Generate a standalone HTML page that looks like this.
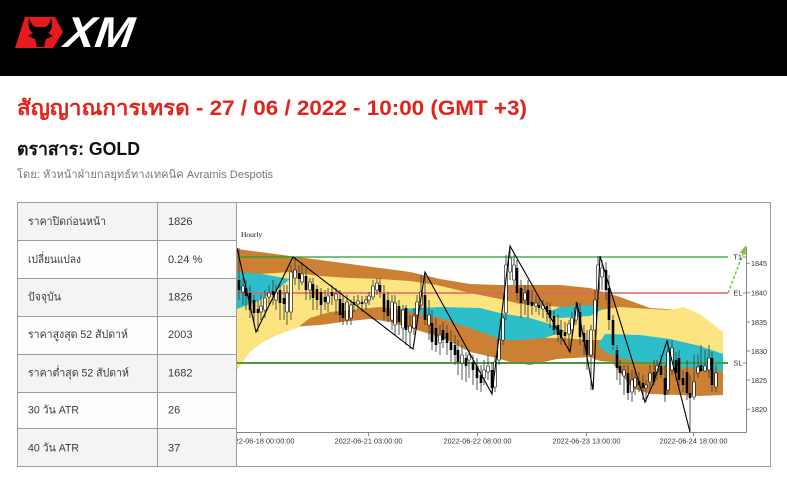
<!DOCTYPE html>
<html>
<head>
<meta charset="utf-8">
<style>
html,body{margin:0;padding:0;background:#fff;}
body{width:787px;height:480px;overflow:hidden;}
svg{display:block;}
text{font-family:"Liberation Sans","DejaVu Sans",sans-serif;}
</style>
</head>
<body>
<svg width="787" height="480" viewBox="0 0 787 480" xmlns="http://www.w3.org/2000/svg">
<defs>
<clipPath id="cc"><rect x="237" y="203" width="533" height="263"/></clipPath>
</defs>
<rect x="0" y="0" width="787" height="480" fill="#fff"/>
<!-- header -->
<rect x="0" y="0" width="787" height="76" fill="#000"/>
<path d="M25 17 L55 17 L63 32 L53 48 L15 48 Z" fill="#e8191f"/>
<path d="M29 18 Q32 27 37 27 L44 27 Q49 27 51 18 Q54 29 48 33 L53 36 L46 39 L44 47 L37 47 L35 39 L28 36 L33 33 Q27 29 29 18 Z" fill="#000"/>
<g transform="translate(0,47) skewX(-8) translate(0,-47)">
<text x="63" y="47" font-size="43" font-weight="bold" font-style="italic" fill="#fff" textLength="69" lengthAdjust="spacingAndGlyphs">XM</text>
</g>
<!-- titles -->
<text x="17" y="115" font-size="21" font-weight="bold" fill="#e2231a" textLength="510" lengthAdjust="spacingAndGlyphs">สัญญาณการเทรด - 27 / 06 / 2022 - 10:00 (GMT +3)</text>
<text x="17" y="155" font-size="18" font-weight="bold" fill="#111" textLength="123" lengthAdjust="spacingAndGlyphs">ตราสาร: GOLD</text>
<text x="17" y="178" font-size="11" fill="#777" textLength="256" lengthAdjust="spacingAndGlyphs">โดย: หัวหน้าฝ่ายกลยุทธ์ทางเทคนิค Avramis Despotis</text>
<!-- table -->
<rect x="17.5" y="202.5" width="219" height="38" fill="#f4f4f4"/>
<rect x="17.5" y="240.5" width="219" height="38" fill="#fdfdfd"/>
<rect x="17.5" y="278.5" width="219" height="38" fill="#f4f4f4"/>
<rect x="17.5" y="316.5" width="219" height="38" fill="#fdfdfd"/>
<rect x="17.5" y="354.5" width="219" height="38" fill="#f4f4f4"/>
<rect x="17.5" y="392.5" width="219" height="36" fill="#fdfdfd"/>
<rect x="17.5" y="428.5" width="219" height="38" fill="#f4f4f4"/>
<g stroke="#9c9c9c" stroke-width="1" fill="none">
<rect x="17.5" y="202.5" width="753" height="264"/>
<path d="M157.5 202.5V466.5M236.5 202.5V466.5M17.5 240.5H236.5M17.5 278.5H236.5M17.5 316.5H236.5M17.5 354.5H236.5M17.5 392.5H236.5M17.5 428.5H236.5"/>
</g>
<g font-size="11" fill="#3a3a3a">
<text x="28" y="225" textLength="78" lengthAdjust="spacingAndGlyphs">ราคาปิดก่อนหน้า</text>
<text x="28" y="263" textLength="53" lengthAdjust="spacingAndGlyphs">เปลี่ยนแปลง</text>
<text x="28" y="300.5" textLength="33" lengthAdjust="spacingAndGlyphs">ปัจจุบัน</text>
<text x="28" y="338" textLength="100" lengthAdjust="spacingAndGlyphs">ราคาสูงสุด 52 สัปดาห์</text>
<text x="28" y="376.5" textLength="101" lengthAdjust="spacingAndGlyphs">ราคาต่ำสุด 52 สัปดาห์</text>
<text x="28" y="413.5" textLength="51" lengthAdjust="spacingAndGlyphs">30 วัน ATR</text>
<text x="28" y="451.5" textLength="51" lengthAdjust="spacingAndGlyphs">40 วัน ATR</text>
<text x="168" y="225">1826</text>
<text x="168" y="263">0.24 %</text>
<text x="168" y="300.5">1826</text>
<text x="168" y="338">2003</text>
<text x="168" y="376.5">1682</text>
<text x="168" y="413.5">26</text>
<text x="168" y="451.5">37</text>
</g>
<!-- chart -->
<g clip-path="url(#cc)">
<text x="241" y="237" font-family="Liberation Serif,serif" font-size="7.5" fill="#111" style="font-family:'Liberation Serif',serif">Hourly</text>
<!-- orange envelope -->
<path fill="#cb8034" d="M237 249L260 252L290 256L320 260L350 264L380 268L410 272L440 279L470 284L500 285L530 285L560 285L590 288L620 297L650 308L680 310L700 317L723 332L723 395L700 396L680 395L650 394L632 388L622 375L612 362L600 361L590 357L557 359L530 365L510 362L497 358L470 352L443 338L417 330L390 322L370 319L350 321L320 325L290 327L260 322L237 318Z"/>
<!-- yellow -->
<path fill="#fce480" d="M237 273L260 274L290 272L320 276L350 278L380 279L410 281L437 285L470 293L500 299L520 304L540 305L560 307L580 311L600 310L620 307L650 309L670 310L683 307L700 314L723 332L723 358L700 352L680 348L650 342L620 340L590 340L560 338L530 338L500 338L470 326L440 316L400 310L380 307L350 310L330 312L310 318L297 328L277 335L263 342L250 352L237 370Z"/>
<!-- cyan -->
<g fill="#2cbfc9">
<path d="M237 272L262 274L290 279L278 289L258 301L237 309Z"/>
<path d="M397 309L440 307L480 308L500 313L530 318L550 324L565 331L545 338L520 340L503 340L470 328L440 318L410 312Z"/>
<path d="M545 314L560 307L590 305L603 309L590 316L560 318Z"/>
<path d="M598 345L605 334L640 335L670 339L700 346L723 354L723 371L700 369L670 366L640 362L620 358L605 352Z"/>
</g>
<!-- horizontal levels -->
<line x1="237" y1="257" x2="728" y2="257" stroke="#2f9a2f" stroke-width="1.3"/>
<line x1="237" y1="293" x2="728" y2="293" stroke="#e06464" stroke-width="1.5"/>
<line x1="237" y1="363" x2="728" y2="363" stroke="#4d9a3c" stroke-width="2"/>
<!-- candles -->
<path fill="none" stroke="#444" stroke-width="0.9" d="M239 248V300M243 275V305M246 280V310M250 285V318M254 295V325M258 300V332M261 295V320M265 290V318M269 285V305M273 280V305M276 285V310M280 283V320M284 285V320M287 285V325M291 265V320M295 257V285M299 265V290M302 262V285M306 268V300M310 278V300M313 278V310M317 285V310M321 288V315M325 290V310M328 288V312M332 285V305M336 288V315M340 290V322M343 295V325M347 295V325M351 300V325M354 296V312M358 295V310M362 296V312M366 296V310M369 292V305M373 280V300M377 278V295M380 278V298M384 285V320M388 292V322M392 295V330M395 295V335M399 300V335M403 305V340M406 305V345M410 315V349M414 308V335M417 295V325M421 275V310M425 272V325M429 300V340M432 310V350M436 318V352M440 325V355M443 322V348M447 325V355M451 330V362M455 335V365M458 340V375M462 345V380M466 352V382M469 350V378M473 355V385M477 358V390M481 365V392M484 360V385M488 355V380M492 362V394M495 355V392M499 330V365M503 315V345M506 255V320M510 246V280M514 255V285M517 260V300M521 280V318M525 285V315M528 280V318M532 290V315M536 295V312M539 298V315M543 300V318M547 302V322M550 303V328M554 310V335M558 315V342M561 320V345M565 322V345M569 320V352M572 312V340M576 302V325M580 303V345M584 325V355M587 330V370M591 325V390M595 290V360M598 256V300M602 260V290M606 262V300M609 275V330M613 315V350M617 345V380M620 360V385M624 365V395M628 365V400M632 370V402M635 368V395M639 372V392M643 375V400M646 380V402M650 365V392M654 360V385M657 360V380M661 355V378M665 365V402M668 341V395M672 340V375M676 352V380M679 350V390M683 370V392M687 360V400M690 375V432M694 355V400M698 355V378M701 345V372M705 350V372M709 345V378M712 352V392M716 365V392"/>
<path fill="#000" d="M237.7 280h2.6v10h-2.6zM244.7 288h2.6v8h-2.6zM248.7 293h2.6v17h-2.6zM252.7 300h2.6v13h-2.6zM256.7 309h2.6v4h-2.6zM271.7 291h2.6v4h-2.6zM278.7 290h2.6v13h-2.6zM282.7 298h2.6v6h-2.6zM297.7 273h2.6v6h-2.6zM304.7 276h2.6v14h-2.6zM311.7 284h2.6v14h-2.6zM315.7 289h2.6v11h-2.6zM319.7 292h2.6v13h-2.6zM323.7 297h2.6v5h-2.6zM330.7 292h2.6v4h-2.6zM338.7 299h2.6v16h-2.6zM341.7 303h2.6v15h-2.6zM352.7 302h2.6v3h-2.6zM360.7 302h2.6v2h-2.6zM378.7 285h2.6v7h-2.6zM382.7 294h2.6v18h-2.6zM386.7 300h2.6v16h-2.6zM397.7 306h2.6v16h-2.6zM404.7 308h2.6v22h-2.6zM423.7 295h2.6v25h-2.6zM430.7 323h2.6v19h-2.6zM434.7 328h2.6v17h-2.6zM441.7 330h2.6v10h-2.6zM445.7 333h2.6v10h-2.6zM449.7 342h2.6v8h-2.6zM453.7 345h2.6v10h-2.6zM456.7 350h2.6v12h-2.6zM464.7 358h2.6v8h-2.6zM471.7 362h2.6v8h-2.6zM475.7 366h2.6v12h-2.6zM479.7 375h2.6v8h-2.6zM490.7 370h2.6v18h-2.6zM515.7 268h2.6v25h-2.6zM519.7 288h2.6v15h-2.6zM526.7 290h2.6v15h-2.6zM530.7 302h2.6v4h-2.6zM537.7 305h2.6v3h-2.6zM545.7 306h2.6v6h-2.6zM548.7 310h2.6v8h-2.6zM552.7 316h2.6v14h-2.6zM556.7 325h2.6v10h-2.6zM559.7 330h2.6v8h-2.6zM563.7 332h2.6v4h-2.6zM578.7 312h2.6v25h-2.6zM582.7 333h2.6v9h-2.6zM585.7 340h2.6v15h-2.6zM604.7 270h2.6v20h-2.6zM607.7 288h2.6v32h-2.6zM611.7 320h2.6v25h-2.6zM615.7 350h2.6v18h-2.6zM618.7 366h2.6v7h-2.6zM626.7 373h2.6v20h-2.6zM637.7 381h2.6v4h-2.6zM641.7 383h2.6v5h-2.6zM652.7 372h2.6v10h-2.6zM659.7 366h2.6v9h-2.6zM663.7 378h2.6v17h-2.6zM674.7 360h2.6v13h-2.6zM677.7 358h2.6v22h-2.6zM681.7 378h2.6v7h-2.6zM685.7 372h2.6v21h-2.6zM688.7 393h2.6v5h-2.6zM699.7 365h2.6v6h-2.6zM710.7 358h2.6v27h-2.6z"/>
<path fill="#fff" stroke="#000" stroke-width="0.6" d="M241.7 286h2.6v6h-2.6zM259.7 306h2.6v6h-2.6zM263.7 298h2.6v12h-2.6zM267.7 293h2.6v4h-2.6zM274.7 292h2.6v8h-2.6zM285.7 293h2.6v19h-2.6zM289.7 272h2.6v40h-2.6zM293.7 270h2.6v8h-2.6zM300.7 274h2.6v8h-2.6zM308.7 282h2.6v8h-2.6zM326.7 296h2.6v7h-2.6zM334.7 294h2.6v6h-2.6zM345.7 302h2.6v18h-2.6zM349.7 305h2.6v13h-2.6zM356.7 301h2.6v3h-2.6zM364.7 300h2.6v3h-2.6zM367.7 296h2.6v4h-2.6zM371.7 286h2.6v11h-2.6zM375.7 283h2.6v7h-2.6zM390.7 302h2.6v18h-2.6zM393.7 303h2.6v22h-2.6zM401.7 310h2.6v18h-2.6zM408.7 326h2.6v6h-2.6zM412.7 316h2.6v12h-2.6zM415.7 302h2.6v13h-2.6zM419.7 292h2.6v13h-2.6zM427.7 315h2.6v10h-2.6zM438.7 335h2.6v8h-2.6zM460.7 355h2.6v8h-2.6zM467.7 355h2.6v5h-2.6zM482.7 370h2.6v8h-2.6zM486.7 366h2.6v6h-2.6zM493.7 362h2.6v25h-2.6zM497.7 340h2.6v20h-2.6zM501.7 318h2.6v22h-2.6zM504.7 265h2.6v48h-2.6zM508.7 258h2.6v14h-2.6zM512.7 265h2.6v15h-2.6zM523.7 293h2.6v7h-2.6zM534.7 303h2.6v3h-2.6zM541.7 305h2.6v4h-2.6zM567.7 324h2.6v10h-2.6zM570.7 318h2.6v12h-2.6zM574.7 308h2.6v12h-2.6zM589.7 330h2.6v25h-2.6zM593.7 300h2.6v30h-2.6zM596.7 265h2.6v25h-2.6zM600.7 268h2.6v9h-2.6zM622.7 370h2.6v6h-2.6zM630.7 380h2.6v12h-2.6zM633.7 378h2.6v9h-2.6zM644.7 385h2.6v3h-2.6zM648.7 373h2.6v9h-2.6zM655.7 366h2.6v6h-2.6zM666.7 352h2.6v38h-2.6zM670.7 348h2.6v22h-2.6zM692.7 382h2.6v15h-2.6zM696.7 367h2.6v6h-2.6zM703.7 366h2.6v5h-2.6zM707.7 358h2.6v12h-2.6zM714.7 373h2.6v14h-2.6z"/>
<!-- zigzag -->
<polyline fill="none" stroke="#000" stroke-width="1.1" points="237,248 256,332 293,257 413,349 425,272 492,394 510,246 570,352 577,302 593,390 600,256 645,402 653,384 667,341 690,432"/>
<!-- arrow -->
<line x1="728" y1="293" x2="743" y2="254" stroke="#7cbf3a" stroke-width="1.5" stroke-dasharray="3,2"/>
<path d="M746 245 L745.5 255 L739.9 252.6 Z" fill="#7cbf3a"/>
<!-- axes -->
<g stroke="#888" stroke-width="1" fill="none">
<path d="M237 432.5H746.5M746.5 247V432.5"/>
<path d="M260.5 432.5V436M368.5 432.5V436M477.5 432.5V436M586.5 432.5V436M693.5 432.5V436"/>
<path d="M746.5 263.3H750M746.5 292.7H750M746.5 322H750M746.5 351H750M746.5 380H750M746.5 409.3H750"/>
<path d="M742.5 257H746.5M743 293H746.5M743 363H746.5"/>
</g>
<g font-size="7.5" fill="#333">
<text x="260.5" y="443.5" text-anchor="middle" textLength="68" lengthAdjust="spacingAndGlyphs">2022-06-18 00:00:00</text>
<text x="368.5" y="443.5" text-anchor="middle" textLength="68" lengthAdjust="spacingAndGlyphs">2022-06-21 03:00:00</text>
<text x="477.5" y="443.5" text-anchor="middle" textLength="68" lengthAdjust="spacingAndGlyphs">2022-06-22 08:00:00</text>
<text x="586.5" y="443.5" text-anchor="middle" textLength="68" lengthAdjust="spacingAndGlyphs">2022-06-23 13:00:00</text>
<text x="693.5" y="443.5" text-anchor="middle" textLength="68" lengthAdjust="spacingAndGlyphs">2022-06-24 18:00:00</text>
<text x="751" y="266" textLength="16" lengthAdjust="spacingAndGlyphs">1845</text>
<text x="751" y="295.5" textLength="16" lengthAdjust="spacingAndGlyphs">1840</text>
<text x="751" y="324.8" textLength="16" lengthAdjust="spacingAndGlyphs">1835</text>
<text x="751" y="353.8" textLength="16" lengthAdjust="spacingAndGlyphs">1830</text>
<text x="751" y="382.8" textLength="16" lengthAdjust="spacingAndGlyphs">1825</text>
<text x="751" y="412" textLength="16" lengthAdjust="spacingAndGlyphs">1820</text>
<text x="742" y="259.7" text-anchor="end">T1</text>
<text x="742.5" y="295.7" text-anchor="end">EL</text>
<text x="742.5" y="365.7" text-anchor="end">SL</text>
</g>
</g>
</svg>
</body>
</html>
